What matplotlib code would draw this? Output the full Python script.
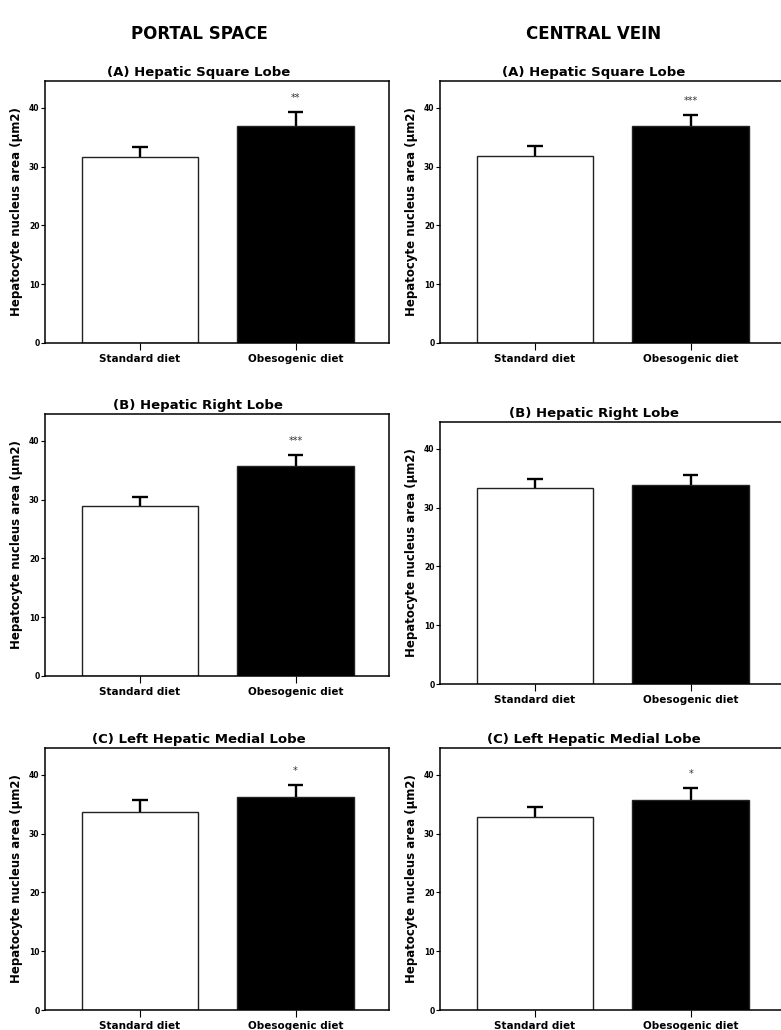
import matplotlib
matplotlib.use("Agg")
import matplotlib.pyplot as plt
import numpy as np

groups = ["Standard diet", "Obesogenic diet"]
titles = ["(A) Hepatic Square Lobe", "(B) Hepatic Right Lobe", "(C) Left Hepatic Medial Lobe"]
columns = ["PORTAL SPACE", "CENTRAL VEIN"]

# means and upper error (mean + SEM)
portal_mean = [[31.7, 36.9], [29.0, 35.8], [33.7, 36.2]]
portal_err = [[1.7, 2.4], [1.4, 1.8], [2.1, 2.0]]
portal_stars = ["**", "***", "*"]

central_mean = [[31.8, 37.0], [33.3, 33.8], [32.8, 35.8]]
central_err = [[1.8, 1.8], [1.5, 1.7], [1.8, 1.9]]
central_stars = ["***", "", "*"]

plt.rcParams['font.family'] = ['DejaVu Sans']
fig = plt.figure(figsize=(7.81, 10.30), dpi=100)

# axes boxes in figure fraction: [left, bottom, width, height]
rows_left = [0.667, 0.3437, 0.0194]
rows_right = [0.667, 0.3359, 0.0194]
col_x = [0.0576, 0.5634]
w, h = 0.4405, 0.2545


def panel(ax, means, errs, stars):
    x = np.array([0, 1])
    means = np.array(means)
    tops = means + np.array(errs)
    ax.bar(x, means, width=0.75, color=["white", "black"], edgecolor="#222222", linewidth=1.0, zorder=2)
    # upper-only error bars
    ax.vlines(x, means, tops, color="black", linewidth=1.7, zorder=1)
    ax.hlines(tops, x - 0.05, x + 0.05, color="black", linewidth=1.7, zorder=1)
    if stars:
        ax.text(1, tops[1] + 1.6, stars, ha="center", va="bottom",
                fontsize=7, color="#333333")
    ax.set_xlim(-0.61, 1.6)
    ax.set_ylim(0, 44.6)
    ax.set_yticks([0, 10, 20, 30, 40])
    ax.set_xticks(x)
    ax.set_xticklabels(groups, fontsize=7.5, fontweight="bold")
    ax.tick_params(axis="y", labelsize=5.5, length=3, width=0.8, pad=1)
    ax.tick_params(axis="x", length=5, width=0.8, pad=3)
    for lab in ax.get_yticklabels():
        lab.set_fontweight("bold")
    for s in ax.spines.values():
        s.set_linewidth(1.1)
    ax.set_ylabel("Hepatocyte nucleus area (µm2)", fontsize=8.5, fontweight="bold", labelpad=4)


data = [(portal_mean, portal_err, portal_stars, rows_left),
        (central_mean, central_err, central_stars, rows_right)]

for c, (means, errs, stars, rows) in enumerate(data):
    for r in range(3):
        ax = fig.add_axes([col_x[c], rows[r], w, h])
        panel(ax, means[r], errs[r], stars[r])
        top = rows[r] + h
        fig.text(0.254 + c * 0.506, top + 0.0085, titles[r], ha="center", va="center",
                 fontsize=9.5, fontweight="bold")
    fig.text(0.255 + c * 0.505, 0.967, columns[c], ha="center", va="center",
             fontsize=12, fontweight="bold")

fig.savefig("out.png", dpi=100)
